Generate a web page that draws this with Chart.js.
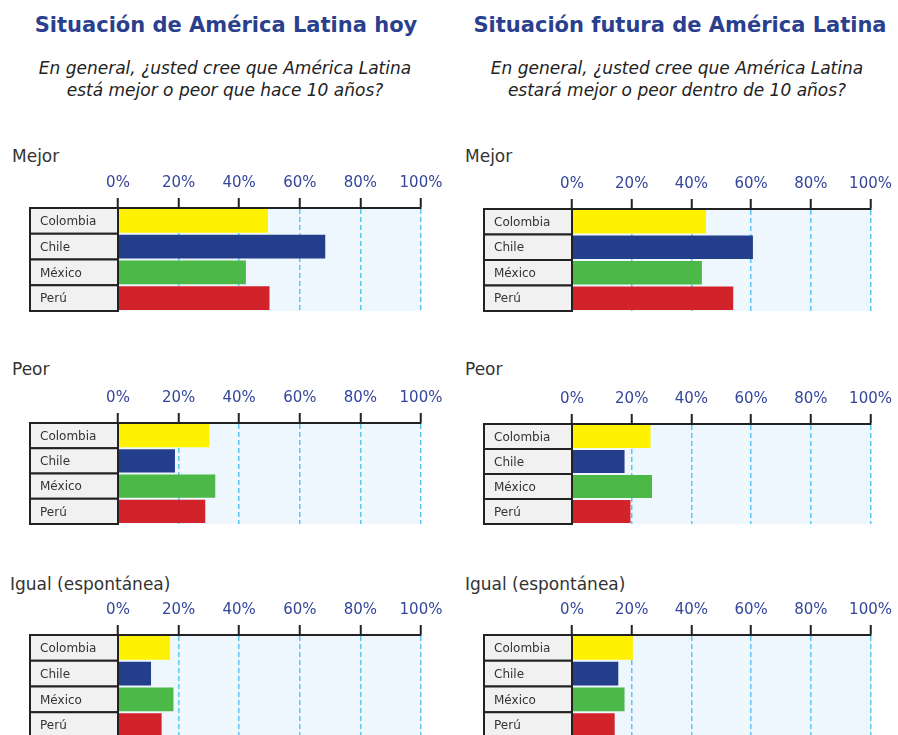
<!DOCTYPE html>
<html lang="es">
<head>
  <meta charset="UTF-8" />
  <title>Situación de América Latina</title>
  <script src="https://cdn.jsdelivr.net/npm/chart.js"></script>
  <style>
    body {
      margin: 0;
      width: 898px;
      height: 735px;
      overflow: hidden;
      background: #fff;
      position: relative;
      font-family: "DejaVu Sans", Verdana, sans-serif;
    }
    .title {
      position: absolute;
      top: 13px;
      width: 450px;
      text-align: center;
      font-weight: bold;
      font-size: 21px;
      line-height: 24px;
      color: #2b3f8f;
      white-space: nowrap;
    }
    .sub {
      position: absolute;
      top: 57px;
      width: 450px;
      text-align: center;
      font-style: italic;
      font-size: 17px;
      line-height: 22px;
      color: #222;
      white-space: nowrap;
    }
    .sec {
      position: absolute;
      font-size: 17px;
      line-height: 20px;
      color: #333;
    }
    canvas { position: absolute; }
  </style>
</head>
<body>
  <div class="title" style="left:1px">Situación de América Latina hoy</div>
  <div class="title" style="left:455px">Situación futura de América Latina</div>
  <div class="sub" style="left:0">En general, ¿usted cree que América Latina<br>está mejor o peor que hace 10 años?</div>
  <div class="sub" style="left:452px">En general, ¿usted cree que América Latina<br>estará mejor o peor dentro de 10 años?</div>

  <div class="sec" style="left:12px;top:146px">Mejor</div>
  <div class="sec" style="left:465px;top:146px">Mejor</div>
  <div class="sec" style="left:12px;top:359px">Peor</div>
  <div class="sec" style="left:465px;top:359px">Peor</div>
  <div class="sec" style="left:10px;top:574px">Igual (espontánea)</div>
  <div class="sec" style="left:465px;top:574px">Igual (espontánea)</div>

  <canvas id="mejorHoy"></canvas>
  <canvas id="mejorFuturo"></canvas>
  <canvas id="peorHoy"></canvas>
  <canvas id="peorFuturo"></canvas>
  <canvas id="igualHoy"></canvas>
  <canvas id="igualFuturo"></canvas>

  <script>
    // datos (%)
    const countries = ['Colombia', 'Chile', 'México', 'Perú'];
    const countryColors = ['#fff200', '#233f8c', '#4cb848', '#d2232a'];
    const tickValues = [0, 20, 40, 60, 80, 100];

    const mejorHoy = [49.5, 68.4, 42.2, 50.0];
    const peorHoy = [30.2, 18.8, 32.1, 28.8];
    const igualHoy = [17.2, 10.9, 18.3, 14.4];

    const mejorFuturo = [44.9, 60.6, 43.5, 54.0];
    const peorFuturo = [26.3, 17.6, 26.8, 19.6];
    const igualFuturo = [20.4, 15.5, 17.6, 14.3];

    const AXIS_H = 44;   // alto de la zona de etiquetas del eje
    const BOX_W = 88;    // ancho de la columna de países

    // fondo celeste del área de barras
    const areaBg = {
      id: 'areaBg',
      beforeDraw(chart) {
        const { ctx, chartArea: a } = chart;
        ctx.save();
        ctx.fillStyle = '#eef7fd';
        ctx.fillRect(a.left, a.top, a.right - a.left, a.bottom - a.top);
        ctx.restore();
      }
    };

    // cajas grises con el nombre del país, una por categoría
    const labelBoxes = {
      id: 'labelBoxes',
      afterDraw(chart) {
        const { ctx, chartArea: a, scales: { y } } = chart;
        const rowH = (a.bottom - a.top) / countries.length;
        ctx.save();
        countries.forEach((name, i) => {
          const cy = y.getPixelForValue(i);
          const top = cy - rowH / 2;
          ctx.fillStyle = '#f1f1f1';
          ctx.fillRect(a.left - BOX_W, top, BOX_W, rowH);
          ctx.strokeStyle = '#222';
          ctx.lineWidth = 2;
          ctx.strokeRect(a.left - BOX_W, top, BOX_W, rowH);
          ctx.fillStyle = '#333';
          ctx.font = '12px "DejaVu Sans"';
          ctx.textBaseline = 'middle';
          ctx.fillText(name, a.left - BOX_W + 10, cy + 1);
        });
        ctx.restore();
      }
    };

    function panel(id, values, left, width, padL, padR, areaTop, areaBottom) {
      const cv = document.getElementById(id);
      const top = areaTop - AXIS_H;
      cv.width = width;
      cv.height = areaBottom - top + 2;
      cv.style.left = left + 'px';
      cv.style.top = top + 'px';

      new Chart(cv, {
        type: 'bar',
        data: {
          labels: countries,
          datasets: [{
            data: values,
            backgroundColor: countryColors,
            borderWidth: 0,
            barPercentage: 0.92,
            categoryPercentage: 1
          }]
        },
        options: {
          indexAxis: 'y',
          responsive: false,
          animation: false,
          events: [],
          layout: { padding: { left: padL, right: padR, top: 0, bottom: 2 } },
          plugins: {
            legend: { display: false },
            tooltip: { enabled: false }
          },
          scales: {
            x: {
              position: 'top',
              min: 0,
              max: 100,
              afterBuildTicks: s => { s.ticks = tickValues.map(v => ({ value: v })); },
              afterFit: s => { s.height = AXIS_H; },
              ticks: {
                callback: v => v + '%',
                color: '#34469a',
                padding: 6,
                maxRotation: 0,
                font: { family: 'DejaVu Sans', size: 15 }
              },
              grid: {
                color: '#5cc6f2',
                lineWidth: 1.5,
                tickColor: '#222',
                tickWidth: 2,
                tickLength: 10
              },
              border: { display: true, color: '#222', width: 2, dash: [5, 3] }
            },
            y: { display: false }
          }
        },
        plugins: [areaBg, labelBoxes]
      });
    }

    panel('mejorHoy', mejorHoy, 0, 450, 118, 29, 208, 311);
    panel('mejorFuturo', mejorFuturo, 450, 448, 122, 23, 209, 311);
    panel('peorHoy', peorHoy, 0, 450, 118, 29, 423, 524);
    panel('peorFuturo', peorFuturo, 450, 448, 122, 23, 424, 524);
    panel('igualHoy', igualHoy, 0, 450, 118, 29, 635, 738);
    panel('igualFuturo', igualFuturo, 450, 448, 122, 23, 635, 738);
  </script>
</body>
</html>
